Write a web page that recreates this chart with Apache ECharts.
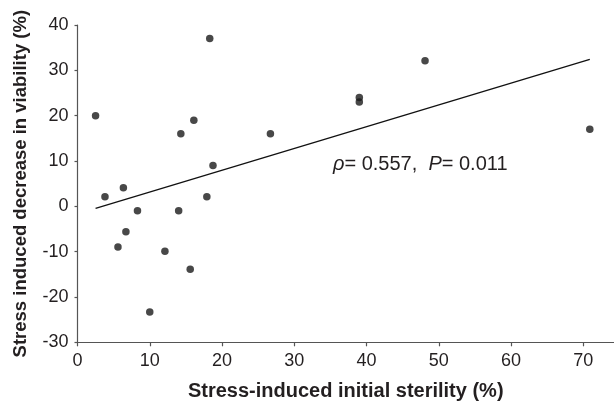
<!DOCTYPE html>
<html>
<head>
<meta charset="utf-8">
<style>
  html, body { margin: 0; padding: 0; background: #fff; }
  #chart { width: 614px; height: 402px; }
</style>
<script src="https://cdn.jsdelivr.net/npm/echarts@6/dist/echarts.min.js"></script>
</head>
<body>
<div id="chart"></div>
<script>
// Stress-induced initial sterility (%) per sample
const sterility = [2.5, 3.8, 5.6, 6.35, 6.7, 8.3, 10.0, 12.1, 14.0, 14.3, 15.6, 16.1, 17.9, 18.3, 18.75, 26.7, 39.0, 39.0, 48.1, 70.9];
// Stress-induced decrease in viability (%) for the same samples
const viability = [20.0, 2.1, -9.0, 4.1, -5.6, -1.0, -23.3, -9.9, -1.0, 16.0, -13.9, 19.0, 2.1, 37.0, 9.0, 16.0, 24.0, 23.0, 32.1, 17.0];
// Fitted trend line, ends of the segment (x, y)
const fitX = [2.5, 70.9];
const fitY = [-0.45, 32.4];
// Axis ticks
const xTicks = [0, 10, 20, 30, 40, 50, 60, 70];
const yTicks = [-30, -20, -10, 0, 10, 20, 30, 40];
const statsText = { rho: '0.557', p: '0.011' };

const FONT = '"Liberation Sans", Arial, Helvetica, sans-serif';
const chart = echarts.init(document.getElementById('chart'), null, { renderer: 'canvas' });

const points = sterility.map((x, i) => [x, viability[i]]);
const fitLine = fitX.map((x, i) => [x, fitY[i]]);

chart.setOption({
  animation: false,
  backgroundColor: '#ffffff',
  grid: { left: 77.5, top: 25, right: 0, bottom: 59.7, containLabel: false, outerBoundsMode: 'none' },
  xAxis: {
    type: 'value',
    min: 0,
    max: 74.25,
    interval: 10,
    name: 'Stress-induced initial sterility (%)',
    nameLocation: 'middle',
    nameGap: 39,
    nameTextStyle: { fontFamily: FONT, fontSize: 20, fontWeight: 'bold', color: '#231f20' },
    axisLine: { show: true, onZero: false, lineStyle: { color: '#555', width: 1.2 } },
    axisTick: { show: true, length: 4, lineStyle: { color: '#555', width: 1.2 } },
    axisLabel: {
      fontFamily: FONT, fontSize: 18, color: '#231f20', margin: 10,
      showMaxLabel: false,
      formatter: v => (xTicks.includes(v) ? String(v) : '')
    },
    splitLine: { show: false }
  },
  yAxis: {
    type: 'value',
    min: -30,
    max: 40,
    interval: 10,
    name: 'Stress induced decrease in viability (%)',
    nameLocation: 'middle',
    nameGap: 47,
    nameTextStyle: { fontFamily: FONT, fontSize: 18.5, fontWeight: 'bold', color: '#231f20' },
    axisLine: { show: true, onZero: false, lineStyle: { color: '#555', width: 1.2 } },
    axisTick: { show: true, length: 3, lineStyle: { color: '#555', width: 1.2 } },
    axisLabel: {
      fontFamily: FONT, fontSize: 18, color: '#231f20', margin: 9,
      formatter: v => (yTicks.includes(v) ? String(v) : '')
    },
    splitLine: { show: false }
  },
  series: [
    {
      type: 'line',
      data: fitLine,
      symbol: 'none',
      lineStyle: { color: '#111', width: 1.3 },
      z: 2
    },
    {
      type: 'scatter',
      data: points,
      symbol: 'circle',
      symbolSize: 7.5,
      itemStyle: { color: '#1a1a1a' },
      z: 3
    }
  ],
  graphic: [
    {
      type: 'text',
      left: 333,
      top: 154,
      style: {
        text: '{i|ρ}{n|= ' + statsText.rho + ',  }{i|P}{n|= ' + statsText.p + '}',
        rich: {
          i: { fontFamily: FONT, fontSize: 20, fontStyle: 'italic', fill: '#231f20' },
          n: { fontFamily: FONT, fontSize: 20, fill: '#231f20' }
        }
      }
    }
  ]
});
</script>
</body>
</html>
